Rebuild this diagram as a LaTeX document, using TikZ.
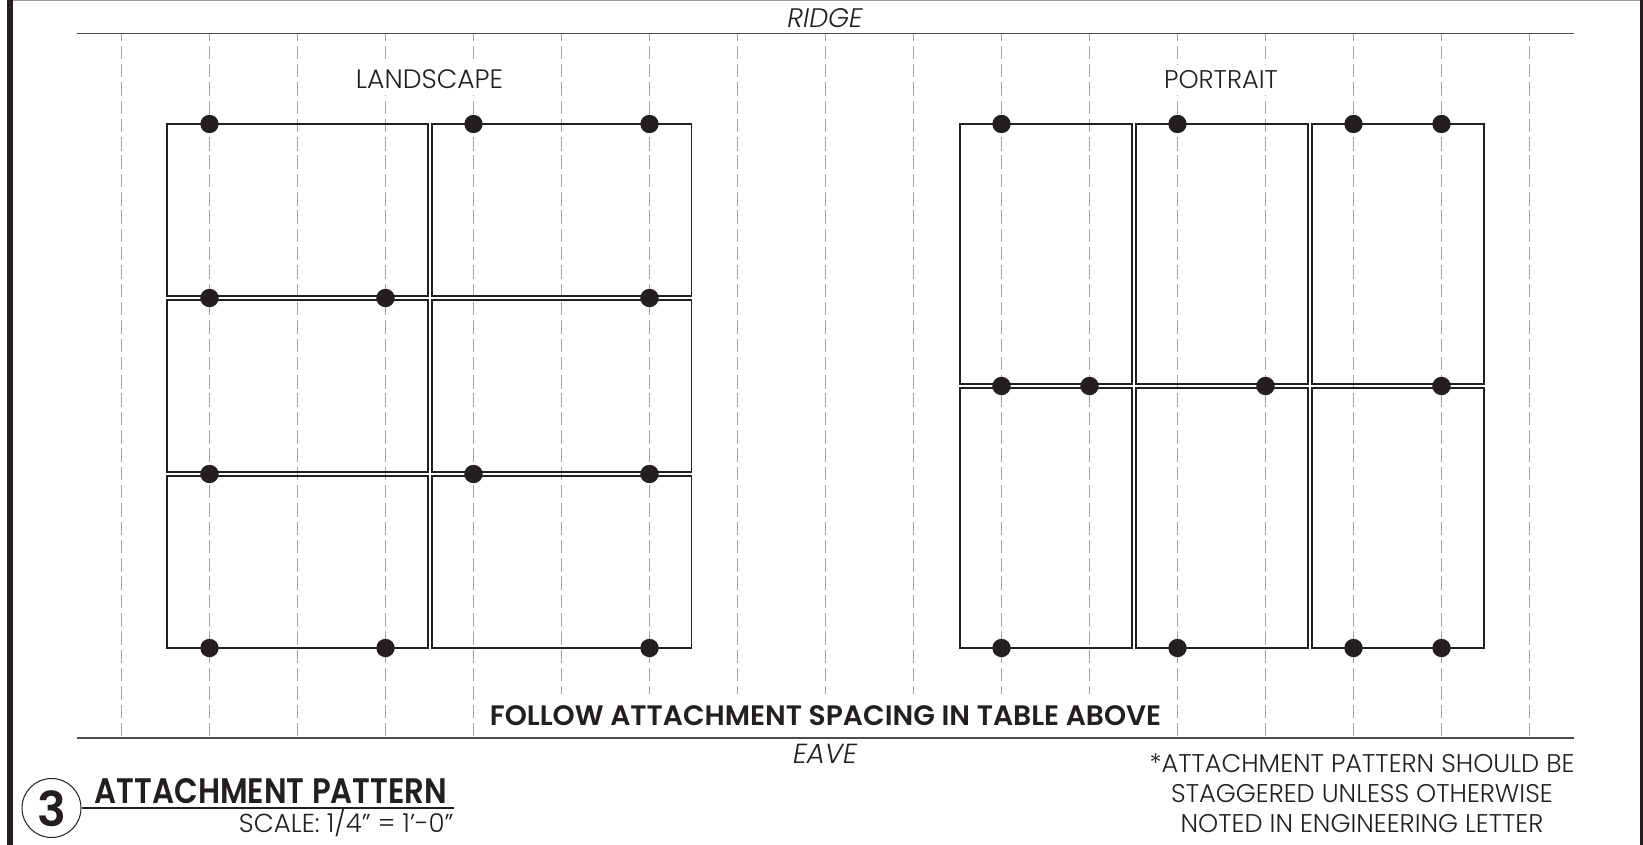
\documentclass[tikz,border=0pt]{standalone}
\usepackage{fontspec}
\setmainfont{Poppins Light}[BoldFont=Poppins SemiBold,ItalicFont=Poppins Light Italic]
\definecolor{ink}{HTML}{231F20}
\tikzset{x=0.5pt,y=-0.5pt,
 rafter/.style={draw=ink!42,line width=0.5pt,dash pattern=on 6.75pt off 2.4pt,dash phase=3.05pt},
 roofline/.style={draw=ink!80,line width=0.65pt},
 panel/.style={draw=ink,line width=0.95pt,line join=miter},
 clamp/.style={circle,fill=ink,draw=none,minimum size=9.2pt,inner sep=0pt},
 lbl/.style={inner sep=0pt,anchor=base,text=ink,font=\fontsize{12.8}{14}\selectfont},
 maskd/.style={fill=white,inner xsep=3pt,inner ysep=3pt}}
\begin{document}
\begin{tikzpicture}
\useasboundingbox (0,0) rectangle (1643,844.5);
\fill[white] (0,0) rectangle (1643,845);
\draw[draw=ink!45,line width=0.5pt] (10,0.5) -- (1641,0.5);
\fill[ink] (7,0) rectangle (13,845);
\fill[ink] (1640,0) rectangle (1643,845);
\foreach \x in {121.5,209.5,...,1529.5} \draw[rafter] (\x,33.5) -- (\x,738);
\coordinate (ridgeL) at (77,33.5); \coordinate (ridgeR) at (1574,33.5);
\coordinate (eaveL) at (77,738); \coordinate (eaveR) at (1574,738);
\foreach \a/\b in {124/296,300/472,476/648}{
 \draw[panel] (167,\a) rectangle (427.7,\b);
 \draw[panel] (431.7,\a) rectangle (691.5,\b);}
\foreach \a/\b in {124/384,388/648}{
 \draw[panel] (960,\a) rectangle (1132,\b);
 \draw[panel] (1136,\a) rectangle (1308,\b);
 \draw[panel] (1312,\a) rectangle (1484,\b);}
\foreach \n/\x/\y in {a1/209.5/124,a2/473.5/124,a3/649.5/124,
 b1/209.5/298,b2/385.5/298,b3/649.5/298,
 c1/209.5/474,c2/473.5/474,c3/649.5/474,
 d1/209.5/648,d2/385.5/648,d3/649.5/648,
 e1/1001.5/124,e2/1177.5/124,e3/1353.5/124,e4/1441.5/124,
 f1/1001.5/386,f2/1089.5/386,f3/1265.5/386,f4/1441.5/386,
 g1/1001.5/648,g2/1177.5/648,g3/1353.5/648,g4/1441.5/648}
 \node[clamp] (\n) at (\x,\y) {};
\node[lbl,font=\fontsize{13.4}{14}\itshape] (ridge) at (825,27.5) {RIDGE};
\node[lbl,font=\fontsize{13.8}{14}\itshape] (eave) at (825,763) {EAVE};
\node[lbl,maskd,font=\fontsize{13.3}{14}\selectfont] (land) at (429.5,89) {LANDSCAPE};
\node[lbl,maskd] (port) at (1221,89) {PORTRAIT};
\node[lbl,fill=white,inner xsep=3pt,inner ysep=5.5pt,font=\fontsize{14.07}{17}\bfseries] (follow) at (825.5,725) {FOLLOW ATTACHMENT SPACING IN TABLE ABOVE};
\draw[roofline] (ridgeL) -- (ridgeR);
\draw[roofline] (eaveL) -- (eaveR);
\node[draw=ink,line width=0.5pt,circle,minimum size=29.5pt,inner sep=0pt] (num) at (51.5,808) {};
\node[lbl,font=\fontsize{24}{28}\bfseries] (numt) at (51.5,826) {3};
\coordinate (ruleEnd) at (454,808);
\draw[draw=ink,line width=0.65pt] (num.east) -- (ruleEnd);
\node[lbl,font=\fontsize{15.4}{19}\bfseries,anchor=base east] (title) at (447.5,803) {\scalebox{1}[1.15]{ATTACHMENT PATTERN}};
\node[lbl,anchor=base east,font=\fontsize{13}{14}\selectfont] (scale) at (454,832) {SCALE: 1/4" = 1'-0"};
\node[lbl] (n1) at (1362,772) {*ATTACHMENT PATTERN SHOULD BE};
\node[lbl] (n2) at (1362,802) {STAGGERED UNLESS OTHERWISE};
\node[lbl] (n3) at (1362,832) {NOTED IN ENGINEERING LETTER};
\end{tikzpicture}
\end{document}
